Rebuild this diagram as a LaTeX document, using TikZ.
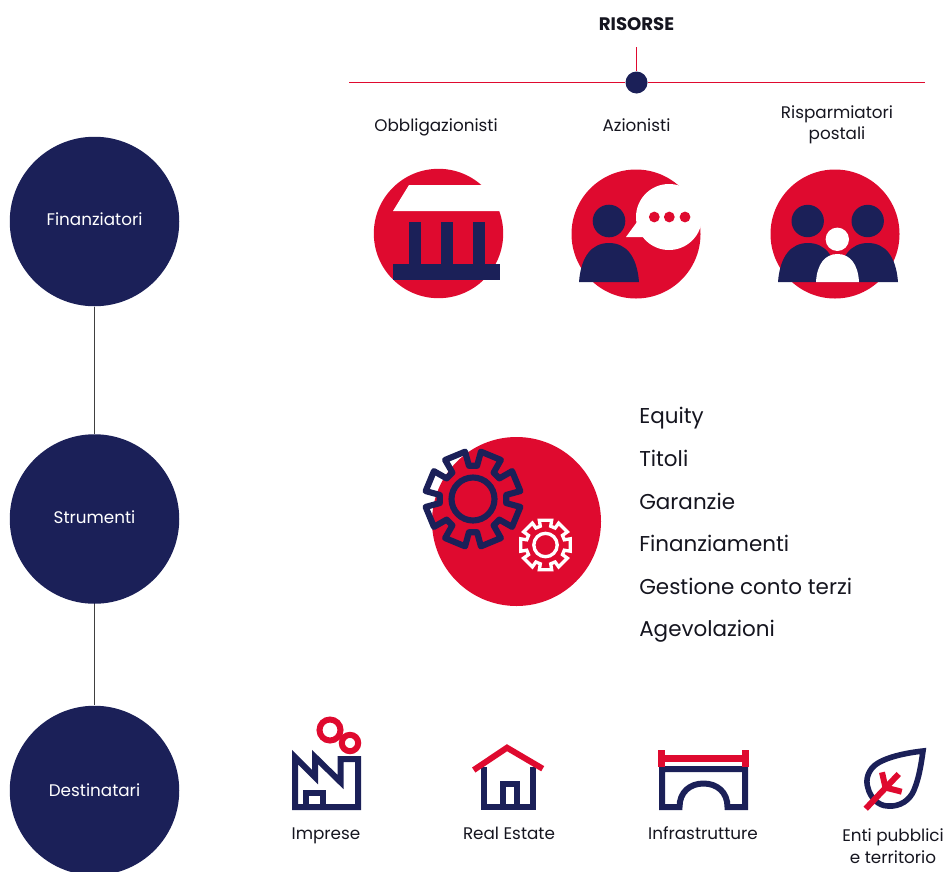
\documentclass[tikz,border=0pt]{standalone}
\usepackage{fontspec}
\setmainfont{Poppins}
\definecolor{navy}{HTML}{1B2058}
\definecolor{rossa}{HTML}{DF0A2F}
\definecolor{testo}{HTML}{15151F}
\tikzset{
  bigdot/.style={circle,fill=navy,draw=none,minimum size=169.5*0.75pt,inner sep=0pt,text=white,font=\fontsize{12.6}{15}\selectfont},
  lab/.style={text=testo,font=\fontsize{12.6}{16}\selectfont,align=center,inner sep=0pt},
  slab/.style={lab,text height=9.5pt,text depth=3pt},
  listlab/.style={text=testo,font=\fontsize{16.1}{20}\selectfont,anchor=west,inner sep=0pt,text height=12pt,text depth=3.5pt},
  link/.style={draw=black!75,line width=0.8pt},
  redline/.style={draw=rossa,line width=0.8pt},
  icon/.style={draw=navy,line width=4.5pt,miter limit=4,fill=none},
  iconr/.style={draw=rossa,line width=4.5pt,fill=none}
}
% gear: centre, teeth offset, outer r, root r, half-angle outer, style
\newcommand{\gearshape}[6]{%
  \begin{scope}[shift={#1}]
  \path[#6] (#2-15.5:#4)
   \foreach \k in {0,...,7}{
     -- ({#2+\k*45-15.5}:#4) -- ({#2+\k*45-#5}:#3) -- ({#2+\k*45+#5}:#3) -- ({#2+\k*45+15.5}:#4)
   } -- cycle;
  \end{scope}}
\begin{document}
\begin{tikzpicture}[x=0.75pt,y=-0.75pt]
\useasboundingbox (0,0) rectangle (948,871);
\clip (0,0) rectangle (948,871);

% left column
\node[bigdot,text depth=3pt] (fin) at (94.5,221.5) {Finanziatori};
\node[bigdot,text depth=3pt] (str) at (94.5,519) {Strumenti};
\node[bigdot] (dst) at (94.5,790.5) {Destinatari};
\draw[link] (fin) -- (str);
\draw[link] (str) -- (dst);

% risorse
\node[text=testo,font=\fontsize{13.6}{15}\selectfont\bfseries,inner sep=0pt] (ris) at (636.5,24.5) {RISORSE};
\coordinate (hl) at (349,82.5);
\coordinate (hr) at (925,82.5);
\coordinate (vt) at (636.5,47);
\node[circle,fill=navy,minimum size=16.5pt,inner sep=0pt] (hub) at (636.5,82.5) {};
\draw[redline] (hl) -- (hub.west);
\draw[redline] (hub.east) -- (hr);
\draw[redline] (vt) -- (hub.north);

\node[slab] (obb) at (436,127.2) {Obbligazionisti};
\node[slab] (azi) at (636.5,127.2) {Azionisti};
\node[lab] (rsp) at (837,124.5) {Risparmiatori\\postali};

% bank
\fill[rossa] (438.5,233.5) circle (64.7);
\fill[white] (409,185) -- (510,185) -- (510,211) -- (393,211) -- cycle;
\fill[navy] (409,222) rectangle (421,265);
\fill[navy] (441,222) rectangle (453,265);
\fill[navy] (473,222) rectangle (485,265);
\fill[navy] (393,264) rectangle (500,280);

% shareholder
\fill[rossa] (636,234) circle (64.5);
\fill[white] (669,217) circle (33);
\fill[white] (626,237) -- (643,237) -- (650,225) -- (637,222) -- cycle;
\fill[navy] (609,221) circle (16.3);
\fill[navy] (579,282) .. controls (581,256) and (592,243) .. (609,243) .. controls (626,243) and (637,256) .. (639,282) -- cycle;
\fill[rossa] (654.3,217) circle (5.4);
\fill[rossa] (669.3,217) circle (5.4);
\fill[rossa] (685,217) circle (5.4);

% savers
\fill[rossa] (835,234) circle (64.5);
\fill[navy] (807.7,221) circle (16.2);
\fill[navy] (867.7,221) circle (16.2);
\fill[navy] (778,282) .. controls (780,256) and (791,243) .. (808,243) .. controls (825,243) and (836,256) .. (838,282) -- cycle;
\fill[navy] (838,282) .. controls (840,256) and (851,243) .. (868,243) .. controls (885,243) and (896,256) .. (898,282) -- cycle;
\fill[white] (816,282) .. controls (817,264) and (825,254) .. (837.5,254) .. controls (850,254) and (858,264) .. (859,282) -- cycle;
\fill[white] (837.3,239.3) circle (11.7);

% gears
\fill[rossa] (516.5,521.5) circle (84.5);
\gearshape{(473,499)}{22.5}{48}{33.5}{13}{draw=navy,line width=4.6pt,line join=round}
\draw[navy,line width=4.6pt] (473,499) circle (21.5);
\gearshape{(545.5,545)}{0}{25.5}{19.5}{14}{draw=white,line width=2.5pt,line join=miter}
\draw[white,line width=2.5pt] (545.5,545) circle (11.7);

% list
\node[listlab] (l1) at (639,418.3) {Equity};
\node[listlab] (l2) at (639,461) {Titoli};
\node[listlab] (l3) at (639,503.6) {Garanzie};
\node[listlab] (l4) at (639,546.2) {Finanziamenti};
\node[listlab] (l5) at (639,588.8) {Gestione conto terzi};
\node[listlab] (l6) at (639,631.3) {Agevolazioni};

% factory
\draw[icon] (295,807) -- (295,757) -- (315,777) -- (315,757) -- (340.5,782) -- (340.5,759) -- (358,759) -- (358,807) -- cycle;
\draw[icon] (305.5,807) -- (305.5,793) -- (323,793) -- (323,807);
\draw[iconr] (330,730) circle (10.5);
\draw[iconr] (350,743) circle (8.2);
\node[slab] (imp) at (326,834.7) {Imprese};

% house
\draw[icon] (484,767) -- (484,807) -- (533,807) -- (533,767);
\draw[icon] (502.5,807) -- (502.5,784) -- (517,784) -- (517,807);
\draw[iconr] (473.7,770) -- (507,747.7) -- (542.7,768.7);
\node[slab] (re) at (509,834.7) {Real Estate};

% bridge
\draw[icon] (662,769) -- (745,769) -- (745,807) -- (727.5,807) .. controls (727.5,792) and (717,783.5) .. (703.5,783.5) .. controls (690,783.5) and (679.5,792) .. (679.5,807) -- (662,807) -- cycle;
\fill[rossa] (658,755) rectangle (749,762.3);
\fill[rossa] (658,750) rectangle (665,766.7);
\fill[rossa] (742,750) rectangle (749,766.7);
\node[slab] (inf) at (703,834.7) {Infrastrutture};

% leaf
\draw[icon,line width=4.2pt] (923,751) .. controls (905,753) and (888,757) .. (878,763) .. controls (868,769) and (865,780) .. (868,788) .. controls (870,797) and (878,806) .. (888,806) .. controls (900,807) and (910,800) .. (914,790) .. controls (919,778) and (921,765) .. (923,751) -- cycle;
\draw[iconr] (865.7,808.7) -- (898.7,774);
\draw[iconr] (882,772.3) -- (886,790);
\draw[iconr] (901.7,791.7) -- (887,788);
\node[lab] (ent) at (893,846) {Enti pubblici\\e territorio};
\end{tikzpicture}
\end{document}
